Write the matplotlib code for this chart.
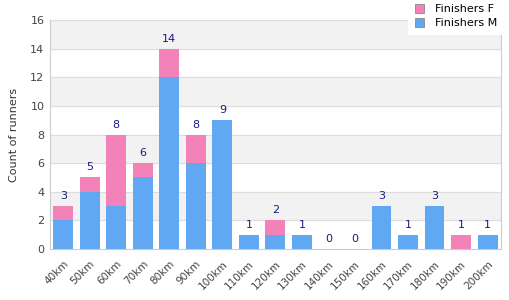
import matplotlib
matplotlib.use("Agg")
import matplotlib.pyplot as plt
from matplotlib.patches import Patch, Rectangle
import numpy as np

categories = ["40km","50km","60km","70km","80km","90km","100km","110km","120km",
              "130km","140km","150km","160km","170km","180km","190km","200km"]
finishers_m = [2,4,3,5,12,6,9,1,1,1,0,0,3,1,3,0,1]
finishers_f = [1,1,5,1,2,2,0,0,1,0,0,0,0,0,0,1,0]

fig = plt.figure(figsize=(5.1, 3.0), dpi=100)
ax = fig.add_axes([0.098, 0.17, 0.884, 0.763])

x = np.arange(len(categories))
m = np.array(finishers_m)
f = np.array(finishers_f)
blue = "#60a8f2"
pink = "#f282b8"
ax.bar(x, m, width=0.75, color=blue, zorder=3)
ax.bar(x, f, width=0.75, bottom=m, color=pink, zorder=3)
for xi, t in zip(x, m + f):
    ax.text(xi, t + 0.35, str(t), ha="center", va="bottom", fontsize=8, color="#1a1a80", zorder=4)

ax.set_xlim(-0.5, len(categories) - 0.5)
ax.set_ylim(0, 16)
for y0 in range(2, 16, 4):
    ax.axhspan(y0, y0 + 2, color="#f2f2f2", zorder=0)
for y in range(2, 17, 2):
    ax.axhline(y, color="#dddddd", lw=0.8, zorder=1)
ax.set_yticks(range(0, 17, 2))
ax.set_xticks(x)
ax.set_xticklabels(categories, rotation=45, ha="right", rotation_mode="anchor")
ax.tick_params(axis="both", length=0, labelsize=8, labelcolor="#444444", pad=4)
ax.tick_params(axis="x", pad=7, labelsize=7.5)
for s in ["left", "bottom", "right"]:
    ax.spines[s].set_color("#cccccc")
ax.spines["top"].set_visible(False)
ax.set_ylabel("Count of runners", fontsize=8, color="#333333", labelpad=8)

# white legend background box
fig.patches.append(Rectangle((408/510, 1 - 35/300), 102/510, 35/300, transform=fig.transFigure,
                             facecolor="white", edgecolor="none", zorder=9))
handles = [Patch(facecolor=pink, edgecolor="#888888", lw=0.6, label="Finishers F"),
           Patch(facecolor=blue, edgecolor="#888888", lw=0.6, label="Finishers M")]
leg = fig.legend(handles=handles, loc="upper left", bbox_to_anchor=(413/510, 1 - 2/300), fontsize=8,
                 frameon=False,
                 handlelength=0.8, handleheight=0.8, borderpad=0.2, labelspacing=0.35,
                 handletextpad=1.0, borderaxespad=0.0)
leg.set_zorder(10)
fig.savefig("out.png", dpi=100)
